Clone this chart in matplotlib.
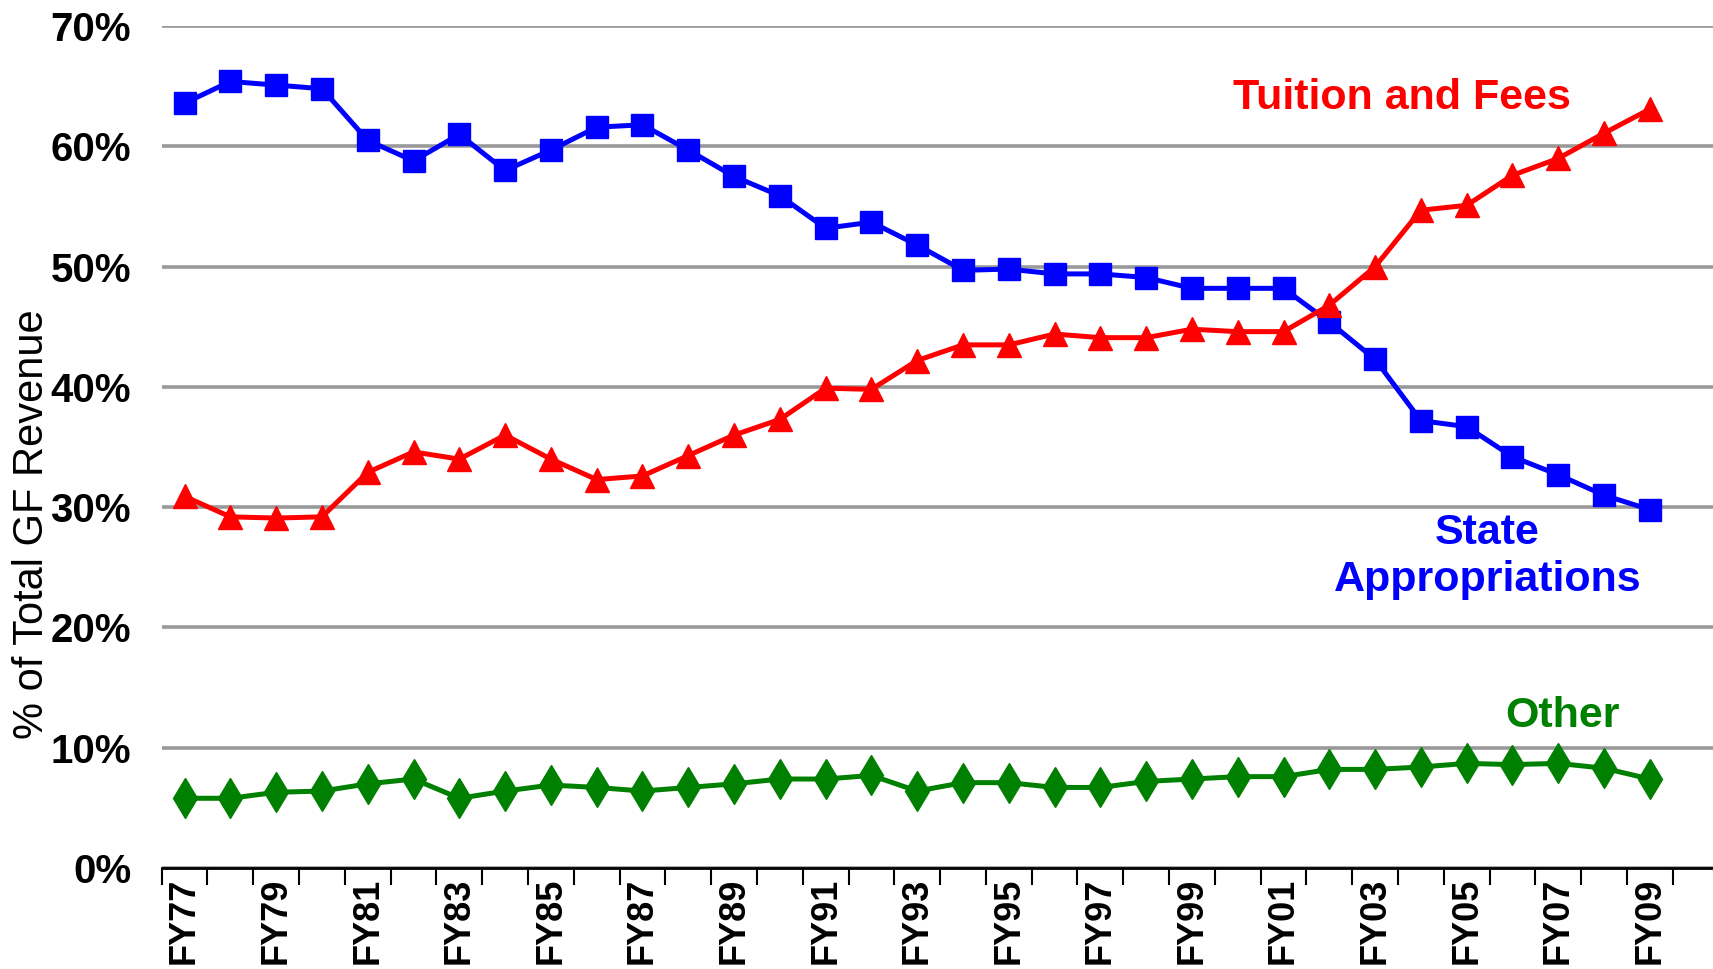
import matplotlib
matplotlib.use("Agg")
import matplotlib.pyplot as plt
import numpy as np

years = ["FY%02d" % (y % 100) for y in range(1977, 2010)]

state_approp = [63.6, 65.4, 65.1, 64.8, 60.5, 58.8, 61.0, 58.0, 59.7, 61.6, 61.8,
                59.7, 57.5, 55.9, 53.2, 53.7, 51.8, 49.7, 49.8, 49.4, 49.4, 49.1,
                48.2, 48.2, 48.2, 45.4, 42.3, 37.2, 36.7, 34.2, 32.7, 31.0, 29.8]

tuition = [30.9, 29.2, 29.1, 29.2, 32.9, 34.6, 34.0, 36.0, 34.0, 32.3, 32.6,
           34.3, 36.0, 37.3, 39.9, 39.8, 42.2, 43.5, 43.5, 44.4, 44.1, 44.1,
           44.8, 44.6, 44.6, 46.8, 50.0, 54.7, 55.1, 57.6, 59.0, 61.1, 63.1]

other = [5.8, 5.8, 6.3, 6.4, 7.0, 7.4, 5.8, 6.4, 6.9, 6.7, 6.4,
         6.7, 7.0, 7.4, 7.4, 7.7, 6.4, 7.1, 7.1, 6.7, 6.7, 7.2,
         7.4, 7.6, 7.6, 8.2, 8.2, 8.4, 8.7, 8.6, 8.7, 8.3, 7.4]

plt.rcParams['font.family'] = ['Liberation Sans', 'DejaVu Sans']

fig = plt.figure(figsize=(17.13, 9.69), dpi=100)
ax = fig.add_axes([0.0944, 0.1042, 0.9056, 0.8688])

x = np.arange(len(years))
ax.plot(x, state_approp, color='#0000FF', lw=3.6, marker='s', ms=15.5, zorder=3)
ax.plot(x, tuition, color='#FF0000', lw=3.6, marker='^', ms=17, zorder=3)
ax.plot(x, other, color='#008000', lw=3.6, marker='d', ms=20, zorder=3)

ax.set_ylim(0, 70)
ax.set_xlim(-0.5, 33.38)
ax.set_yticks(range(0, 71, 10))
ax.set_yticklabels(["%d%%" % v for v in range(0, 71, 10)],
                   fontsize=29, fontweight='bold')
ax.tick_params(axis='y', length=0, pad=22)
ax.yaxis.grid(True, color='#999999', lw=2.6)
ax.set_axisbelow(True)

ax.set_xticks(x[::2])
ax.set_xticklabels(years[::2], rotation=90, fontsize=26, fontweight='bold')
ax.set_xticks(np.arange(-0.5, len(years)), minor=True)
ax.tick_params(axis='x', which='major', length=0, pad=7)
ax.tick_params(axis='x', which='minor', length=12, width=1.5)

for s in ['top', 'right', 'left']:
    ax.spines[s].set_visible(False)
ax.spines['bottom'].set_linewidth(2)

ax.set_ylabel("% of Total GF Revenue", fontsize=30)
ax.yaxis.set_label_coords(-0.071, 0.409)

ax.text(26.59, 64.0, "Tuition and Fees", color='#FF0000', fontsize=31,
        fontweight='bold', ha='center', va='center')
ax.text(28.45, 25.9, "State\nAppropriations", color='#0000FF', fontsize=31,
        fontweight='bold', ha='center', va='center', linespacing=1.25)
ax.text(30.09, 12.6, "Other", color='#008000', fontsize=31,
        fontweight='bold', ha='center', va='center')

fig.savefig("out.png", dpi=100)
